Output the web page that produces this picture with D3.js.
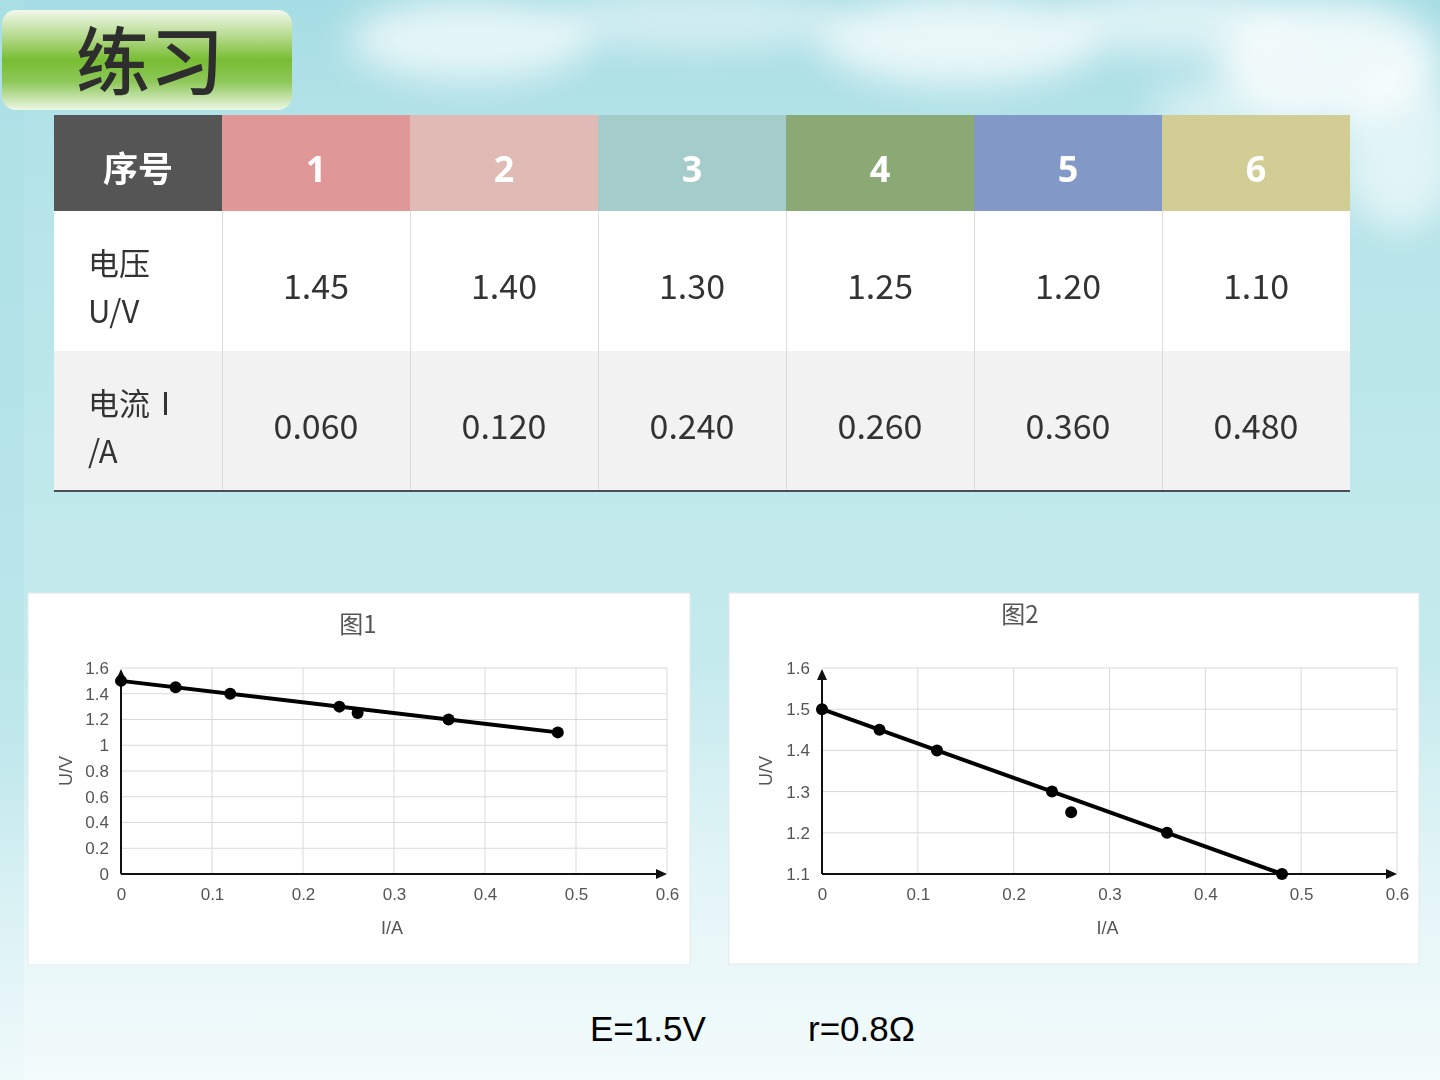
<!DOCTYPE html>
<html>
<head>
<meta charset="utf-8">
<script src="https://cdn.jsdelivr.net/npm/d3@7"></script>
<style>
  html, body { margin: 0; padding: 0; background: #c2e9ec; }
  svg { display: block; }
</style>
</head>
<body>
<div id="slide"></div>
<script>
// table data
const headLabel = "序号";
const trialNos = ["1", "2", "3", "4", "5", "6"];
const headColors = ["#e09797", "#e0bab4", "#a4ccca", "#8aa975", "#8299c8", "#d2cc95"];
const rowLabels = [["电压", "U/V"], ["电流Ⅰ", "/A"]];
const voltage = [1.45, 1.40, 1.30, 1.25, 1.20, 1.10];
const current = [0.060, 0.120, 0.240, 0.260, 0.360, 0.480];

// chart data: measured points, intercept and fitted line
const intercept = {I: 0, U: 1.5};
const fitLine = [{I: 0, U: 1.5}, {I: 0.48, U: 1.1}];
const xTicks = [0, 0.1, 0.2, 0.3, 0.4, 0.5, 0.6];
const yTicks1 = [0, 0.2, 0.4, 0.6, 0.8, 1, 1.2, 1.4, 1.6];
const yTicks2 = [1.1, 1.2, 1.3, 1.4, 1.5, 1.6];
const resultText = ["E=1.5V", "r=0.8Ω"];

const W = 1440, H = 1080;
const svg = d3.select('#slide').append('svg')
    .attr('width', W)
    .attr('height', H);

const defs = svg.append('defs');

// sky background
const bg = defs.append('linearGradient').attr('id', 'sky')
    .attr('x1', 0).attr('y1', 0).attr('x2', 0).attr('y2', 1);
[[0, '#a6dde4'], [0.12, '#b3e3e8'], [0.5, '#c1e9ec'], [0.6, '#c3eaed'], [0.82, '#e4f5f7'], [1, '#f3fbfc']]
    .forEach(s => bg.append('stop').attr('offset', s[0]).attr('stop-color', s[1]));

const strip = defs.append('linearGradient').attr('id', 'strip')
    .attr('x1', 0).attr('y1', 0).attr('x2', 0).attr('y2', 1);
[[0, '#a9dfe5', 0.7], [0.7, '#b6e4e9', 0.6], [1, '#e6f6f8', 0.3]]
    .forEach(s => strip.append('stop').attr('offset', s[0]).attr('stop-color', s[1]).attr('stop-opacity', s[2]));

const blur = defs.append('filter').attr('id', 'blur')
    .attr('x', '-50%').attr('y', '-50%').attr('width', '200%').attr('height', '200%');
blur.append('feGaussianBlur').attr('stdDeviation', 18);

const green = defs.append('linearGradient').attr('id', 'green')
    .attr('x1', 0).attr('y1', 0).attr('x2', 0).attr('y2', 1);
[[0, '#f2f8ec'], [0.25, '#b9dc93'], [0.5, '#78bd32'], [0.72, '#8ec85a'], [1, '#eef7e6']]
    .forEach(s => green.append('stop').attr('offset', s[0]).attr('stop-color', s[1]));

svg.append('rect').attr('width', W).attr('height', H).attr('fill', 'url(#sky)');
svg.append('rect').attr('width', 24).attr('height', H).attr('fill', 'url(#strip)');

// soft clouds near the top
const clouds = svg.append('g').attr('filter', 'url(#blur)').attr('fill', '#ffffff');
[[470, 40, 120, 40, 0.7], [700, 20, 150, 30, 0.5], [960, 40, 140, 45, 0.75], [1180, 20, 120, 35, 0.6],
 [1330, 60, 110, 60, 0.8], [1400, 150, 60, 80, 0.6], [1240, 110, 90, 30, 0.5]]
    .forEach(c => clouds.append('ellipse')
        .attr('cx', c[0]).attr('cy', c[1]).attr('rx', c[2]).attr('ry', c[3]).attr('opacity', c[4]));

// title badge
svg.append('rect')
    .attr('x', 2).attr('y', 10).attr('width', 290).attr('height', 100).attr('rx', 14)
    .attr('fill', 'url(#green)');
svg.append('text')
    .attr('x', 150).attr('y', 89)
    .attr('text-anchor', 'middle')
    .attr('font-family', '"Noto Sans CJK SC", sans-serif')
    .attr('font-weight', 500)
    .attr('font-size', 74)
    .attr('fill', '#2e2e2e')
    .text('练习');

// ---------- table ----------
const tableLeft = 54, labelRight = 222, tableRight = 1350;
const colX = d3.scaleBand().domain(trialNos).range([labelRight, tableRight]);
const rowY = {head: [115, 211], u: [211, 351], i: [351, 491]};
const cjk = '"Noto Sans CJK SC", "Noto Sans", sans-serif';

const table = svg.append('g');

table.append('rect')
    .attr('x', tableLeft).attr('y', rowY.head[0])
    .attr('width', labelRight - tableLeft).attr('height', rowY.head[1] - rowY.head[0])
    .attr('fill', '#555555');
table.selectAll('.head')
    .data(trialNos)
    .enter().append('rect')
    .attr('x', d => colX(d))
    .attr('y', rowY.head[0])
    .attr('width', colX.bandwidth())
    .attr('height', rowY.head[1] - rowY.head[0])
    .attr('fill', (d, i) => headColors[i]);

table.append('rect')
    .attr('x', tableLeft).attr('y', rowY.u[0])
    .attr('width', tableRight - tableLeft).attr('height', rowY.u[1] - rowY.u[0])
    .attr('fill', '#ffffff');
table.append('rect')
    .attr('x', tableLeft).attr('y', rowY.i[0])
    .attr('width', tableRight - tableLeft).attr('height', rowY.i[1] - rowY.i[0])
    .attr('fill', '#f2f2f2');

// thin column separators in the body
table.selectAll('.sep')
    .data(trialNos)
    .enter().append('line')
    .attr('x1', d => colX(d) + 0.5).attr('x2', d => colX(d) + 0.5)
    .attr('y1', rowY.u[0]).attr('y2', rowY.i[1])
    .attr('stroke', '#dcdcdc');
table.append('line')
    .attr('x1', tableLeft).attr('x2', tableRight)
    .attr('y1', rowY.i[1]).attr('y2', rowY.i[1])
    .attr('stroke', '#4a4f55').attr('stroke-width', 2);

// header text
table.append('text')
    .attr('x', (tableLeft + labelRight) / 2).attr('y', 182)
    .attr('text-anchor', 'middle')
    .attr('font-family', cjk).attr('font-weight', 700).attr('font-size', 35)
    .attr('fill', '#ffffff')
    .text(headLabel);
table.selectAll('.headText')
    .data(trialNos)
    .enter().append('text')
    .attr('x', d => colX(d) + colX.bandwidth() / 2)
    .attr('y', 182)
    .attr('text-anchor', 'middle')
    .attr('font-family', '"Open Sans", "Noto Sans", sans-serif')
    .attr('font-weight', 700).attr('font-size', 36)
    .attr('fill', '#ffffff')
    .text(d => d);

// row labels
rowLabels.forEach((lines, r) => {
    const top = r === 0 ? rowY.u[0] : rowY.i[0];
    lines.forEach((t, k) => {
        table.append('text')
            .attr('x', 88).attr('y', top + 64 + k * 48)
            .attr('font-family', cjk).attr('font-size', 31)
            .attr('fill', '#333333')
            .text(t);
    });
});

// values
const valueRows = [
    {vals: voltage, fmt: d => d.toFixed(2), y: 299},
    {vals: current, fmt: d => d.toFixed(3), y: 439}
];
valueRows.forEach(row => {
    table.selectAll(null)
        .data(row.vals)
        .enter().append('text')
        .attr('x', (d, i) => colX(trialNos[i]) + colX.bandwidth() / 2)
        .attr('y', row.y)
        .attr('text-anchor', 'middle')
        .attr('font-family', cjk).attr('font-weight', 400).attr('font-size', 34)
        .attr('fill', '#333333')
        .text(row.fmt);
});

// ---------- charts ----------
const points = [intercept].concat(voltage.map((u, i) => ({I: current[i], U: u})));
const tickFont = '"Liberation Sans", Arial, sans-serif';

function drawChart(cfg) {
    const g = svg.append('g');

    g.append('rect')
        .attr('x', cfg.panel[0]).attr('y', cfg.panel[1])
        .attr('width', cfg.panel[2] - cfg.panel[0]).attr('height', cfg.panel[3] - cfg.panel[1])
        .attr('fill', '#ffffff')
        .attr('stroke', '#e4e8ea');

    const x = d3.scaleLinear().domain([0, 0.6]).range(cfg.xRange);
    const y = d3.scaleLinear().domain(cfg.yDomain).range([874, 668]);

    // grid
    g.append('g')
        .selectAll('line')
        .data(xTicks.slice(1))
        .enter().append('line')
        .attr('x1', d => x(d)).attr('x2', d => x(d))
        .attr('y1', y.range()[1]).attr('y2', y.range()[0])
        .attr('stroke', '#d9d9d9');
    g.append('g')
        .selectAll('line')
        .data(cfg.yTicks.slice(1))
        .enter().append('line')
        .attr('x1', x.range()[0]).attr('x2', x.range()[1])
        .attr('y1', d => y(d)).attr('y2', d => y(d))
        .attr('stroke', '#d9d9d9');

    // axes with d3 tick labels
    const xAxis = g.append('g')
        .attr('transform', `translate(0,${y.range()[0]})`)
        .call(d3.axisBottom(x).tickValues(xTicks).tickSize(0).tickPadding(14).tickFormat(d3.format('~g')));
    const yAxis = g.append('g')
        .attr('transform', `translate(${x.range()[0]},0)`)
        .call(d3.axisLeft(y).tickValues(cfg.yTicks).tickSize(0).tickPadding(12).tickFormat(d3.format('~g')));
    [xAxis, yAxis].forEach(a => {
        a.select('.domain').remove();
        a.selectAll('text')
            .attr('font-family', tickFont).attr('font-size', 17).attr('fill', '#555555');
    });

    // axis lines with arrows
    const x0 = x.range()[0], y0 = y.range()[0];
    g.append('line')
        .attr('x1', x0).attr('x2', x.range()[1] - 8)
        .attr('y1', y0).attr('y2', y0)
        .attr('stroke', '#111').attr('stroke-width', 2);
    g.append('line')
        .attr('x1', x0).attr('x2', x0)
        .attr('y1', y0).attr('y2', y.range()[1] + 8)
        .attr('stroke', '#111').attr('stroke-width', 2);
    g.append('path')
        .attr('d', `M${x.range()[1]},${y0} l-11,-5 l0,10 z`)
        .attr('fill', '#111');
    g.append('path')
        .attr('d', `M${x0},${y.range()[1] + 1} l-5,11 l10,0 z`)
        .attr('fill', '#111');

    // fitted line and points
    g.append('path')
        .datum(fitLine)
        .attr('d', d3.line().x(d => x(d.I)).y(d => y(d.U)))
        .attr('fill', 'none')
        .attr('stroke', '#000')
        .attr('stroke-width', 4);
    g.selectAll('.pt')
        .data(points)
        .enter().append('circle')
        .attr('cx', d => x(d.I))
        .attr('cy', d => y(d.U))
        .attr('r', 6)
        .attr('fill', '#000');

    // titles
    g.append('text')
        .attr('x', cfg.title[0]).attr('y', cfg.title[1])
        .attr('text-anchor', 'middle')
        .attr('font-family', cjk).attr('font-size', 24)
        .attr('fill', '#555555')
        .text(cfg.titleText);
    g.append('text')
        .attr('x', (x.range()[0] + x.range()[1]) / 2 - 2).attr('y', 934)
        .attr('text-anchor', 'middle')
        .attr('font-family', tickFont).attr('font-size', 18)
        .attr('fill', '#555555')
        .text('I/A');
    g.append('text')
        .attr('transform', `translate(${cfg.yLabelX},771) rotate(-90)`)
        .attr('text-anchor', 'middle')
        .attr('font-family', tickFont).attr('font-size', 18)
        .attr('fill', '#555555')
        .text('U/V');
}

drawChart({
    panel: [28, 593, 690, 965],
    xRange: [121, 667],
    yDomain: [0, 1.6],
    yTicks: yTicks1,
    title: [358, 633],
    titleText: '图1',
    yLabelX: 72
});

drawChart({
    panel: [729, 593, 1419, 964],
    xRange: [822, 1397],
    yDomain: [1.1, 1.6],
    yTicks: yTicks2,
    title: [1020, 623],
    titleText: '图2',
    yLabelX: 772
});

// result line
svg.selectAll('.result')
    .data(resultText)
    .enter().append('text')
    .attr('x', (d, i) => [590, 808][i])
    .attr('y', 1041)
    .attr('font-family', tickFont).attr('font-size', 35)
    .attr('fill', '#000')
    .text(d => d);
</script>
</body>
</html>
